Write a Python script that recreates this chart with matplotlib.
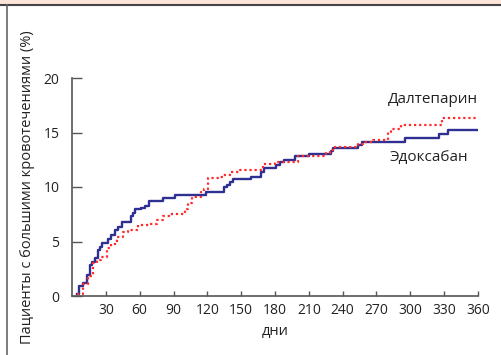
import matplotlib
matplotlib.use("Agg")
import matplotlib.pyplot as plt
from matplotlib.lines import Line2D
from matplotlib.patches import Rectangle

plt.rcParams['font.family'] = ['Open Sans', 'DejaVu Sans']

# Эдоксабан (синяя сплошная)
edox_days = [4, 6, 9.6, 13.6, 16, 17.4, 20.5, 22.7, 24.8, 26.8,
             31.5, 35, 38, 41, 44, 52, 54, 56, 61, 65,
             68.4, 80.8, 91, 119, 134.8, 137, 140, 143, 159, 168,
             170, 180.5, 184, 188.4, 198, 210, 229.7, 231.8, 254, 257,
             295.5, 325, 333.8, 360]
edox_vals = [0.2, 0.9, 1.2, 1.9, 2.8, 3.1, 3.5, 4.2, 4.5, 4.9,
             5.2, 5.6, 6.05, 6.35, 6.8, 7.3, 7.6, 8.0, 8.1, 8.3,
             8.75, 9.0, 9.25, 9.5, 10.0, 10.2, 10.5, 10.7, 10.9, 11.4,
             11.7, 12.0, 12.3, 12.5, 12.8, 13.0, 13.3, 13.6, 13.85, 14.1,
             14.45, 14.85, 15.2, 15.2]

# Далтепарин (красная пунктирная)
dalt_days = [4, 10, 14.5, 18.9, 22.6, 26, 30.7, 35, 39.5, 45.4,
             49.8, 58.7, 69, 75, 81, 87, 100, 103, 106, 114.7,
             116.8, 120.6, 131, 134, 140, 148.6, 169, 179.6, 200, 225,
             228.5, 233.6, 254, 257.7, 266.6, 280, 283, 292, 328, 360]
dalt_vals = [0.2, 1.1, 1.8, 3.0, 3.3, 3.6, 4.4, 4.8, 5.4, 5.9,
             6.1, 6.5, 6.65, 7.0, 7.3, 7.55, 8.0, 8.5, 9.1, 9.5,
             9.85, 10.8, 10.95, 11.1, 11.4, 11.6, 12.1, 12.3, 12.8, 13.1,
             13.4, 13.7, 13.95, 14.15, 14.35, 15.05, 15.3, 15.7, 16.3, 16.3]

xticks = list(range(30, 361, 30))
yticks = [0, 5, 10, 15, 20]

fig = plt.figure(figsize=(5.02, 3.55), dpi=100)
fig.patch.set_facecolor('white')

# рамка
fig.add_artist(Rectangle((0, 1 - 4.5/355), 1, 4.5/355, transform=fig.transFigure,
                         facecolor='#fde4d8', edgecolor='none'))
fig.add_artist(Line2D([0, 1], [1 - 5/355, 1 - 5/355], transform=fig.transFigure,
                      color='#444444', lw=1.5))
fig.add_artist(Line2D([7.5/502, 7.5/502], [0, 1 - 5/355], transform=fig.transFigure,
                      color='#666666', lw=1.2))

ax = fig.add_axes([72/502, 1 - 296/355, (478 - 72)/502, (296 - 78)/355])

ax.step(edox_days, edox_vals, where='post', color='#2e3192', lw=1.7)
ax.step(dalt_days, dalt_vals, where='post', color='#ff2a2a', lw=1.6,
        linestyle=(0, (1, 1.3)))

ax.set_xlim(0, 360)
ax.set_ylim(0, 20)
ax.set_xticks(xticks)
ax.set_yticks(yticks)
ax.tick_params(axis='y', direction='in', length=7, width=1, color='#555555',
               labelsize=10, pad=9, labelcolor='#222222')
ax.tick_params(axis='x', direction='in', length=3.5, width=1, color='#555555',
               labelsize=10, pad=5, labelcolor='#222222')
for s in ['top', 'right']:
    ax.spines[s].set_visible(False)
for s in ['left', 'bottom']:
    ax.spines[s].set_color('#555555')
    ax.spines[s].set_linewidth(1.2)

ax.set_xlabel('дни', fontsize=10.5, color='#222222', labelpad=4)
ax.set_ylabel('Пациенты с большими кровотечениями (%)', fontsize=10.5,
              color='#222222')
ax.yaxis.set_label_coords(-37/406, 0.5)

ax.text(360, 18.0, 'Далтепарин', ha='right', va='center', fontsize=11, color='#222222')
ax.text(351, 12.7, 'Эдоксабан', ha='right', va='center', fontsize=11, color='#222222')

fig.savefig('out.png', dpi=100)
